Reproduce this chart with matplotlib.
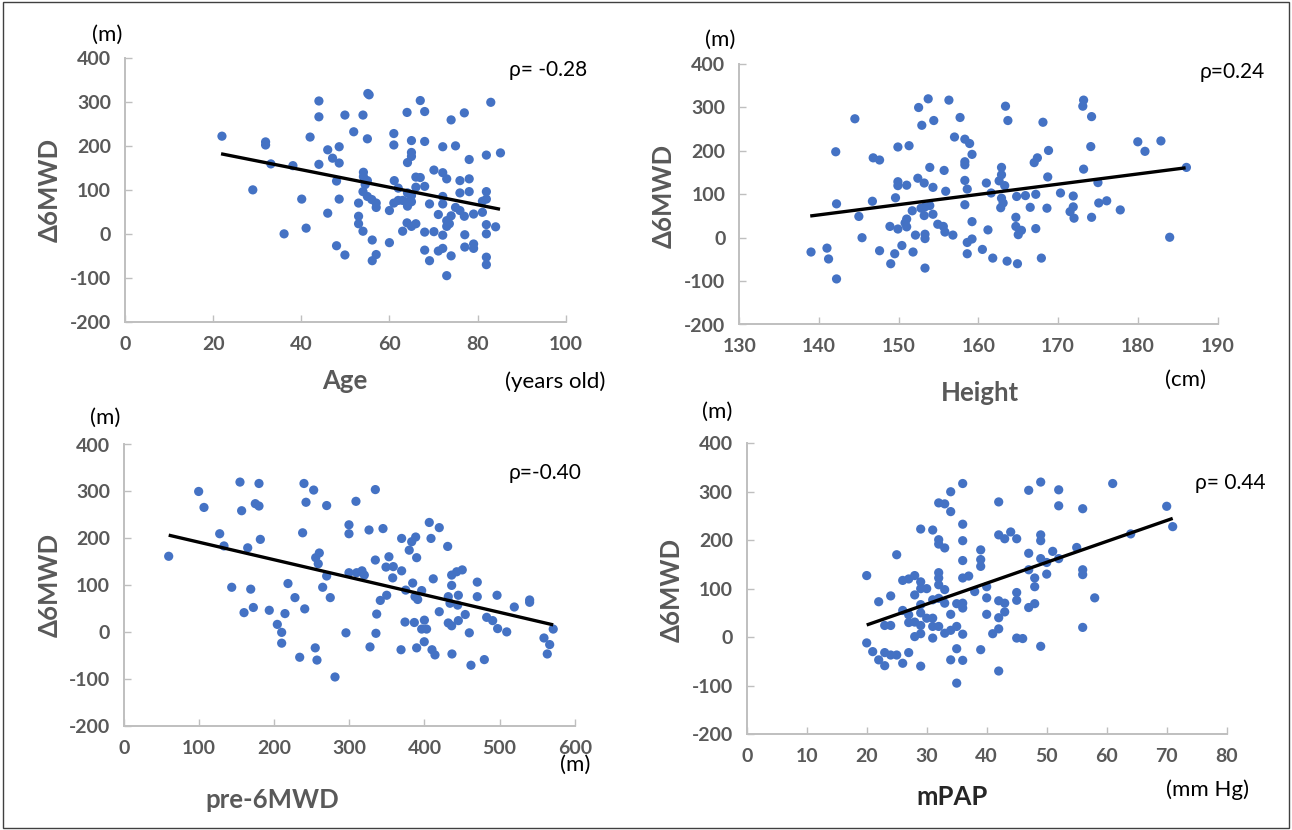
import matplotlib
matplotlib.use('Agg')
import matplotlib.pyplot as plt
from matplotlib.patches import Rectangle

# ---- Panel 1: Age vs delta 6MWD ----
age = [22.0, 29.0, 31.9, 31.9, 33.1, 36.1, 38.1, 40.1, 41.1, 42.0,
       44.0, 44.0, 44.0, 46.0, 46.0, 47.1, 48.0, 48.0, 48.6, 48.6,
       48.6, 55.1, 55.4, 67.0, 83.0, 49.9, 54.0, 64.0, 68.0, 77.0,
       74.0, 51.9, 55.0, 61.0, 61.0, 65.0, 68.0, 72.1, 75.0, 65.0,
       65.0, 64.1, 78.1, 82.0, 85.2, 54.1, 54.1, 55.0, 54.5, 61.1,
       62.0, 66.0, 67.0, 66.0, 68.0, 70.1, 72.1, 73.0, 76.0, 78.1,
       76.0, 78.1, 82.0, 82.0, 81.1, 54.0, 55.0, 56.0, 57.0, 57.0,
       53.0, 60.0, 61.0, 62.0, 63.0, 64.1, 65.0, 64.1, 64.1, 65.0,
       72.1, 72.1, 69.1, 75.0, 76.0, 77.0, 71.1, 79.1, 81.1, 74.0,
       73.0, 73.6, 73.0, 53.0, 53.0, 54.0, 64.0, 65.0, 66.0, 63.0,
       68.0, 70.1, 72.1, 77.1, 82.0, 82.0, 84.1, 56.1, 60.0, 49.9,
       57.0, 56.1, 68.0, 69.1, 71.1, 72.1, 74.0, 77.1, 79.1, 79.1,
       82.0, 82.0, 73.0]
dmwd_age = [223, 101, 210, 203, 160, 1, 156, 80, 14, 221,
            303, 267, 159, 192, 48, 173, 121, -26, 199, 162,
            80, 320, 317, 304, 300, 271, 271, 277, 279, 276,
            260, 233, 217, 229, 203, 213, 211, 199, 201, 186,
            177, 163, 170, 180, 185, 141, 131, 122, 113, 122,
            105, 130, 129, 107, 109, 146, 140, 126, 122, 126,
            94, 97, 97, 80, 75, 97, 86, 79, 71, 61,
            71, 54, 71, 77, 77, 74, 74, 64, 94, 88,
            86, 69, 69, 61, 54, 41, 45, 46, 50, 42,
            31, 24, 18, 41, 24, 7, 26, 18, 24, 7,
            5, 6, -2, -1, 22, 1, 17, -13, -19, -47,
            -46, -60, -36, -60, -38, -32, -49, -29, -22, -32,
            -52, -69, -94]
age_fit_x = [21.8, 85.1]
age_fit_y = [183, 57]

# ---- Panel 2: Height vs delta 6MWD ----
height = [153.7, 152.5, 156.3, 157.7, 144.5, 152.9, 154.4, 157.0, 158.3, 142.1,
          149.9, 151.3, 146.8, 147.6, 153.9, 155.7, 158.3, 158.3, 152.4, 153.2,
          154.3, 155.9, 149.9, 149.9, 151.0, 158.3, 158.6, 149.6, 146.7, 142.2,
          158.3, 151.7, 152.8, 153.3, 153.9, 153.2, 154.3, 145.0, 151.0, 150.8,
          151.0, 148.9, 149.9, 154.9, 155.6, 155.8, 156.8, 152.1, 153.3, 153.3,
          145.4, 158.6, 158.6, 158.9, 159.2, 159.2, 159.2, 141.0, 139.0, 141.2,
          147.6, 150.4, 149.5, 151.8, 149.0, 153.3, 142.2, 163.4, 163.7, 168.1,
          173.2, 173.1, 174.2, 180.0, 180.9, 182.9, 186.1, 184.0, 162.9, 162.9,
          162.6, 163.3, 161.0, 161.6, 162.9, 163.1, 162.8, 164.8, 165.9, 167.2,
          167.0, 167.4, 168.8, 168.7, 166.5, 168.6, 170.3, 171.9, 171.9, 171.5,
          172.0, 173.2, 174.1, 175.0, 175.1, 176.1, 177.8, 174.2, 164.7, 164.7,
          165.0, 165.4, 167.2, 161.2, 160.5, 161.8, 163.6, 164.9, 167.9]
dmwd_height = [320, 300, 317, 277, 274, 259, 270, 232, 227, 198,
               209, 212, 184, 179, 162, 155, 175, 168, 137, 126,
               116, 107, 129, 120, 121, 132, 112, 92, 84, 78,
               76, 62, 68, 71, 74, 51, 54, 49, 43, 34,
               25, 26, 20, 31, 26, 13, 6, 6, 8, -2,
               0, -11, -37, 217, 192, 37, -3, -24, -33, -49,
               -30, -18, -37, -33, -60, -70, -95, 303, 270, 266,
               317, 303, 279, 221, 199, 223, 162, 1, 162, 145,
               131, 120, 126, 103, 91, 80, 69, 95, 97, 100,
               173, 184, 201, 140, 70, 68, 103, 96, 71, 60,
               45, 158, 210, 127, 80, 85, 64, 47, 47, 26,
               7, 17, 21, 18, -27, -47, -54, -60, -47]
height_fit_x = [138.9, 186.0]
height_fit_y = [50, 161]

# ---- Panel 3: pre-6MWD vs delta 6MWD ----
pre6mwd = [59.5, 99.4, 106.5, 154.4, 179.7, 156.6, 174.8, 179.7, 127.4, 133.1,
           164.7, 181.5, 239.6, 252.5, 242.3, 269.8, 308.8, 237.8, 299.5, 299.5,
           326.2, 260.0, 255.2, 258.6, 269.8, 299.5, 309.7, 316.8, 319.9, 143.4,
           168.7, 218.3, 264.5, 227.6, 274.6, 172.2, 159.8, 193.4, 214.3, 240.6,
           204.1, 209.9, 209.9, 295.5, 233.9, 254.6, 256.9, 280.9, 327.5, 334.6,
           344.8, 369.6, 383.0, 388.3, 379.7, 389.6, 406.4, 419.7, 408.7, 430.9,
           334.6, 352.7, 348.8, 358.5, 369.6, 357.7, 411.7, 436.2, 442.9, 450.3,
           436.2, 470.3, 384.3, 396.3, 375.0, 387.4, 391.0, 349.7, 341.2, 431.7,
           445.1, 434.0, 444.2, 470.3, 496.6, 419.7, 454.3, 519.6, 540.0, 540.0,
           374.1, 386.5, 399.9, 396.3, 402.8, 399.7, 431.7, 436.2, 445.1, 482.8,
           490.8, 497.4, 509.5, 459.7, 336.4, 335.4, 368.8, 389.6, 410.0, 414.0,
           436.6, 461.9, 479.7, 571.4, 559.1, 566.7, 563.5]
dmwd_pre = [162, 300, 266, 320, 317, 259, 274, 269, 210, 184,
            180, 198, 317, 303, 277, 270, 279, 212, 229, 210,
            218, 169, 159, 146, 120, 127, 127, 131, 122, 96,
            92, 104, 96, 74, 74, 53, 42, 47, 40, 50,
            17, 0, -23, -1, -53, -33, -59, -95, -31, 304,
            221, 200, 193, 203, 175, 159, 234, 223, 200, 183,
            154, 161, 139, 140, 131, 116, 114, 122, 129, 133,
            100, 107, 105, 89, 90, 76, 70, 79, 68, 76,
            79, 62, 58, 76, 79, 44, 38, 54, 69, 64,
            22, 21, 26, 7, 7, -20, 20, 14, 25, 32,
            25, 8, 1, -1, 39, -2, -37, -33, -37, -48,
            -46, -70, -58, 7, -12, -26, -46]
pre_fit_x = [59.5, 571.4]
pre_fit_y = [207, 16]

# ---- Panel 4: mPAP vs delta 6MWD ----
mpap = [36, 34, 32, 33, 34, 42, 47, 29, 31, 36,
        32, 32, 33, 36, 42, 43, 44, 45, 25, 36,
        39, 39, 39, 47, 20, 26, 27, 28, 29, 30,
        29, 32, 32, 32, 33, 36, 37, 38, 40, 28,
        29, 31, 32, 33, 35, 36, 36, 40, 42, 43,
        45, 45, 47, 22, 24, 26, 27, 29, 28, 27,
        29, 30, 31, 31, 32, 33, 34, 35, 34, 40,
        42, 43, 42, 41, 23, 24, 28, 29, 31, 36,
        45, 46, 20, 21, 22, 23, 23, 24, 25, 26,
        27, 29, 35, 34, 36, 39, 42, 35, 49, 52,
        61, 52, 56, 70, 71, 49, 49, 64, 51, 55,
        49, 50, 52, 47, 50, 56, 56, 48, 48, 58,
        48, 56, 49]
dmwd_mpap = [317, 300, 277, 275, 259, 279, 303, 223, 221, 233,
             201, 192, 184, 199, 211, 203, 217, 203, 170, 158,
             180, 160, 146, 173, 127, 117, 120, 127, 114, 100,
             100, 133, 122, 108, 98, 122, 126, 94, 104, 87,
             67, 77, 80, 70, 69, 70, 60, 81, 75, 70,
             92, 76, 61, 73, 85, 55, 46, 50, 31, 30,
             24, 39, 39, 22, 22, 8, 14, 22, 47, 47,
             40, 52, 17, 7, 24, 24, 1, 7, -2, 6,
             -2, -3, -12, -30, -47, -59, -32, -37, -37, -54,
             -32, -60, -24, -47, -48, -26, -70, -95, 320, 304,
             317, 271, 265, 270, 228, 211, 199, 213, 177, 185,
             162, 154, 162, 139, 130, 139, 129, 122, 104, 81,
             69, 20, -19]
mpap_fit_x = [20, 71]
mpap_fit_y = [25, 245]

y_ticks = [-200, -100, 0, 100, 200, 300, 400]

plt.rcParams['font.family'] = ['Lato', 'DejaVu Sans']

BLUE = '#4472C4'
GRAY = '#595959'
AXIS_GRAY = '#BFBFBF'

W, H = 1292, 830
fig = plt.figure(figsize=(W / 100, H / 100), dpi=100)
fig.patch.set_facecolor('white')


def px_rect(x0, y0, x1, y1):
    """Axes rectangle from pixel corners (top-left origin)."""
    return [x0 / W, 1 - y1 / H, (x1 - x0) / W, (y1 - y0) / H]


def ptext(x, y, s, **kw):
    fig.text(x / W, 1 - y / H, s, ha='center', va='center', **kw)


def make_panel(rect, x, y, fit_x, fit_y, xlim, xticks):
    ax = fig.add_axes(rect)
    ax.scatter(x, y, s=44, color=BLUE, edgecolors='none', zorder=3)
    ax.plot(fit_x, fit_y, color='black', lw=2.4, zorder=4, solid_capstyle='butt')
    ax.set_xlim(*xlim)
    ax.set_ylim(-200, 400)
    ax.set_xticks(xticks, [str(t) for t in xticks], fontweight='bold')
    ax.set_yticks(y_ticks, [str(t) for t in y_ticks], fontweight='bold')
    for s in ['top', 'right']:
        ax.spines[s].set_visible(False)
    for s in ['left', 'bottom']:
        ax.spines[s].set_color(AXIS_GRAY)
        ax.spines[s].set_linewidth(1.4)
    ax.tick_params(direction='in', length=5, width=1, color=AXIS_GRAY,
                   labelsize=14, labelcolor=GRAY, pad=10)
    return ax


make_panel(px_rect(125, 58.3, 565.7, 322.3), age, dmwd_age, age_fit_x, age_fit_y,
           (0, 100), [0, 20, 40, 60, 80, 100])
make_panel(px_rect(739.3, 64.1, 1217.5, 324.5), height, dmwd_height, height_fit_x, height_fit_y,
           (130, 190), [130, 140, 150, 160, 170, 180, 190])
make_panel(px_rect(124, 444.5, 574.7, 726.3), pre6mwd, dmwd_pre, pre_fit_x, pre_fit_y,
           (0, 600), [0, 100, 200, 300, 400, 500, 600])
make_panel(px_rect(746.7, 443.3, 1226.7, 734), mpap, dmwd_mpap, mpap_fit_x, mpap_fit_y,
           (0, 80), [0, 10, 20, 30, 40, 50, 60, 70, 80])

# axis titles and annotations
big = dict(fontsize=18.5, fontweight='bold', color=GRAY)
small = dict(fontsize=16, color='black')
rho = dict(fontsize=15, color='black')

# panel 1
ptext(107, 35, '(m)', **small)
ptext(50, 190, 'Δ6MWD', rotation=90, **big)
ptext(345, 381, 'Age', **big)
ptext(555, 382, '(years old)', **small)
ptext(548, 70, 'ρ= -0.28', **rho)

# panel 2
ptext(720, 40, '(m)', **small)
ptext(664, 196, 'Δ6MWD', rotation=90, **big)
ptext(980, 393, 'Height', **big)
ptext(1185, 380, '(cm)', **small)
ptext(1232, 72, 'ρ=0.24', **rho)

# panel 3
ptext(105, 418, '(m)', **small)
ptext(50, 585, 'Δ6MWD', rotation=90, **big)
ptext(272, 800, 'pre-6MWD', **big)
ptext(575, 765, '(m)', **small)
ptext(545, 473, 'ρ=-0.40', **rho)

# panel 4
ptext(717, 412, '(m)', **small)
ptext(672, 590, 'Δ6MWD', rotation=90, **big)
ptext(952, 797, 'mPAP', fontsize=18.5, fontweight='bold', color='#262626')
ptext(1208, 790, '(mm Hg)', **small)
ptext(1230, 483, 'ρ= 0.44', **rho)

# outer frame
fig.patches.append(Rectangle((0.002, 0.003), 0.996, 0.994, transform=fig.transFigure,
                             fill=False, edgecolor='#404040', lw=1))

fig.savefig('out.png', dpi=100)
